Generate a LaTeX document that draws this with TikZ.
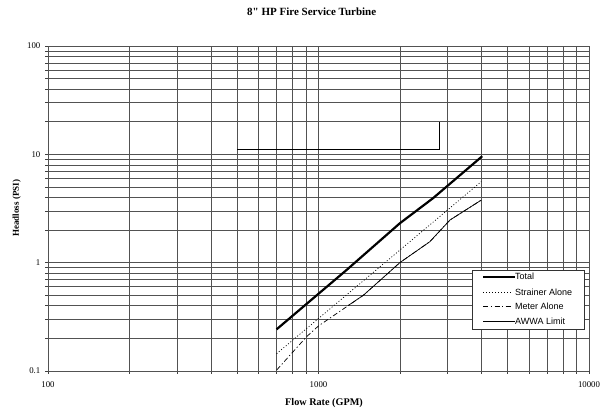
\documentclass[tikz,border=0pt]{standalone}
\usepackage{fontspec}
\setmainfont{Liberation Serif}
\newfontfamily\legendfont{Liberation Sans}
\begin{document}
\begin{tikzpicture}[x=1pt,y=1pt,
  gridline/.style={line width=0.5pt, draw=black!68},
  tickmark/.style={line width=0.5pt, draw=black!75},
  ticklab/.style={font=\fontsize{8.8}{10}\selectfont, inner sep=0pt},
  axlab/.style={font=\bfseries\fontsize{9}{10}\selectfont, inner sep=0pt},
  totalline/.style={line width=2.2pt, draw=black},
  strainerline/.style={line width=0.7pt, draw=black, dash pattern=on 1pt off 2pt},
  meterline/.style={line width=0.7pt, draw=black, dash pattern=on 5pt off 2.5pt on 1.2pt off 2.5pt},
  awwaline/.style={line width=0.7pt, draw=black},
  limitline/.style={line width=0.8pt, draw=black},
  legtext/.style={font=\legendfont\fontsize{9}{10}\selectfont, inner sep=0pt, anchor=west}]
\useasboundingbox (0,0) rectangle (613,413);
\fill[white] (0,0) rectangle (613,413);
% data scope: x = log10(GPM), y = log10(PSI)
\begin{scope}[shift={(-493pt,150.4pt)}, x=270.5pt, y=108.3pt]
  % vertical grid lines
  \foreach \d in {2,3}{
    \foreach \m in {1,...,9}{
      \pgfmathsetmacro\gx{\d+log10(\m)}
      \draw[gridline] (\gx,-1) -- (\gx,2);
      \draw[tickmark] (\gx,-1) -- ++(0pt,-3pt);
    }
  }
  \draw[gridline] (4,-1) -- (4,2);
  \draw[tickmark] (4,-1) -- ++(0pt,-3pt);
  % horizontal grid lines
  \foreach \d in {-1,0,1}{
    \foreach \m in {1,...,9}{
      \pgfmathsetmacro\gy{\d+log10(\m)}
      \draw[gridline] (2,\gy) -- (4,\gy);
      \draw[tickmark] (2,\gy) -- ++(-3pt,0pt);
    }
  }
  \draw[gridline] (2,2) -- (4,2);
  \draw[tickmark] (2,2) -- ++(-3pt,0pt);
  % axis tick labels
  \node[ticklab, anchor=east] (y100) at ([xshift=-7.5pt]2,2) {100};
  \node[ticklab, anchor=east] (y10) at ([xshift=-7.5pt]2,1) {10};
  \node[ticklab, anchor=east] (y1) at ([xshift=-7.5pt]2,0) {1};
  \node[ticklab, anchor=east] (y01) at ([xshift=-7.5pt]2,-1) {0.1};
  \node[ticklab] (x100) at ([yshift=-14pt]2,-1) {100};
  \node[ticklab] (x1000) at ([yshift=-14pt]3,-1) {1000};
  \node[ticklab] (x10000) at ([yshift=-14pt]4,-1) {10000};
  % limit bracket
  \draw[limitline] ({log10(500)},{log10(11)}) -- ({log10(2800)},{log10(11)}) -- ({log10(2800)},{log10(20)});
  % curves
  \draw[strainerline] ({log10(700)},{log10(0.142)}) -- ({log10(4000)},{log10(5.6)});
  \draw[meterline] ({log10(701)},{log10(0.102)}) -- ({log10(904)},{log10(0.207)}) -- ({log10(1000)},{log10(0.26)}) -- ({log10(1466)},{log10(0.50)}) -- ({log10(2000)},{log10(1.0)}) -- ({log10(2580)},{log10(1.56)}) -- ({log10(3060)},{log10(2.47)}) -- ({log10(4000)},{log10(3.78)});
  \draw[awwaline] ({log10(1285)},{log10(0.40)}) -- ({log10(1466)},{log10(0.50)}) -- ({log10(2000)},{log10(1.0)}) -- ({log10(2580)},{log10(1.56)}) -- ({log10(3060)},{log10(2.47)}) -- ({log10(4000)},{log10(3.78)});
  \draw[totalline, line join=round] ({log10(700)},{log10(0.242)}) -- ({log10(1270)},{log10(0.855)}) -- ({log10(2000)},{log10(2.31)}) -- ({log10(2650)},{log10(3.93)}) -- ({log10(4030)},{log10(9.6)});
\end{scope}
% titles
\node[font=\bfseries\fontsize{11}{13}\selectfont, inner sep=0pt] (title) at (311.7,401.7) {8\textquotedbl\ HP Fire Service Turbine};
\node[axlab, font=\bfseries\fontsize{10.2}{12}\selectfont] (xlabel) at (324,10.3) {Flow Rate (GPM)};
\node[axlab, rotate=90] (ylabel) at (16.7,204.7) {Headloss (PSI)};
% legend
\node[draw=black!80, line width=0.5pt, fill=white, minimum width=111.7pt, minimum height=59.3pt, anchor=south west, inner sep=0pt] (legend) at (472.3,83.7) {};
\node[legtext] (lt1) at (515,136.3) {Total};
\node[legtext] (lt2) at (515,120.3) {Strainer Alone};
\node[legtext] (lt3) at (515,106.3) {Meter Alone};
\node[legtext] (lt4) at (515,91.3) {AWWA Limit};
\draw[totalline] ([xshift=-31.7pt]lt1.west) -- (lt1.west);
\draw[strainerline] ([xshift=-31.7pt]lt2.west) -- ([xshift=-2pt]lt2.west);
\draw[meterline] ([xshift=-31.7pt]lt3.west) -- ([xshift=-2pt]lt3.west);
\draw[awwaline] ([xshift=-31.7pt]lt4.west) -- (lt4.west);
\end{tikzpicture}
\end{document}
